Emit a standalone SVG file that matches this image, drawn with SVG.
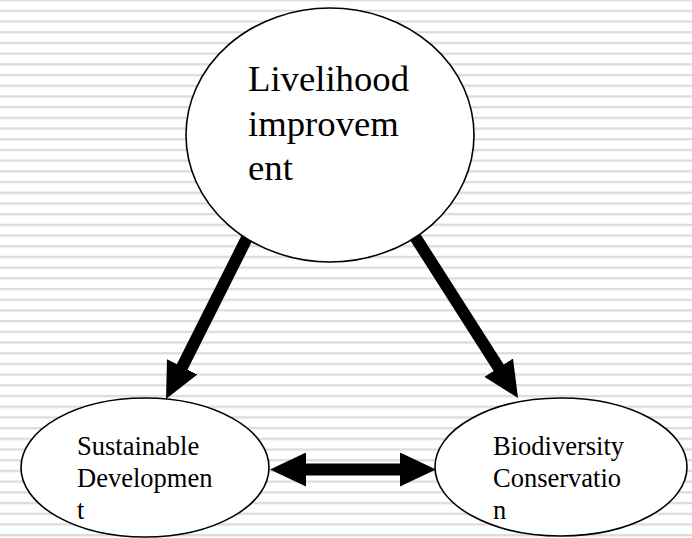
<svg xmlns="http://www.w3.org/2000/svg" width="692" height="538" viewBox="0 0 692 538">
<style>
.node{fill:#fff;stroke:#000;stroke-width:1.6}
.big{font-family:"Liberation Serif","Times New Roman",serif;font-size:36.7px;fill:#000}
.small{font-family:"Liberation Serif","Times New Roman",serif;font-size:26.5px;fill:#000}
.conn{stroke:#000;stroke-width:12;fill:none}
</style>
<defs>
<pattern id="stripes" patternUnits="userSpaceOnUse" x="0" y="-1" width="692" height="10.7">
<rect x="0" y="0" width="692" height="2" fill="#dcdcdc"/>
<rect x="0" y="2" width="692" height="0.7" fill="#eeeeee"/>
</pattern>
<marker id="head" markerUnits="userSpaceOnUse" markerWidth="36" markerHeight="34" refX="6" refY="17" orient="auto-start-reverse">
<path d="M0,0 L36,17 L0,34 Z" fill="#000"/>
</marker>
</defs>
<rect x="0" y="0" width="692" height="538" fill="#fff"/>
<rect x="0" y="0" width="692" height="538" fill="url(#stripes)"/>
<g id="connectors">
<line class="conn" x1="256" y1="220" x2="179.5" y2="372.2" marker-end="url(#head)"/>
<line class="conn" x1="405" y1="221" x2="501.9" y2="372.7" marker-end="url(#head)"/>
<line class="conn" x1="300" y1="469.5" x2="406" y2="469.5" marker-start="url(#head)" marker-end="url(#head)"/>
</g>
<g id="livelihood">
<ellipse class="node" cx="330" cy="135" rx="144" ry="127"/>
<text class="big" x="248" y="91">Livelihood</text>
<text class="big" x="248" y="136">improvem</text>
<text class="big" x="248" y="180">ent</text>
</g>
<g id="sustainable">
<ellipse class="node" cx="145" cy="467.5" rx="124" ry="69.5"/>
<text class="small" x="77" y="455">Sustainable</text>
<text class="small" x="77" y="487">Developmen</text>
<text class="small" x="77" y="519">t</text>
</g>
<g id="biodiversity">
<ellipse class="node" cx="561" cy="467" rx="126" ry="69"/>
<text class="small" x="493" y="455">Biodiversity</text>
<text class="small" x="493" y="487">Conservatio</text>
<text class="small" x="493" y="519">n</text>
</g>
</svg>
